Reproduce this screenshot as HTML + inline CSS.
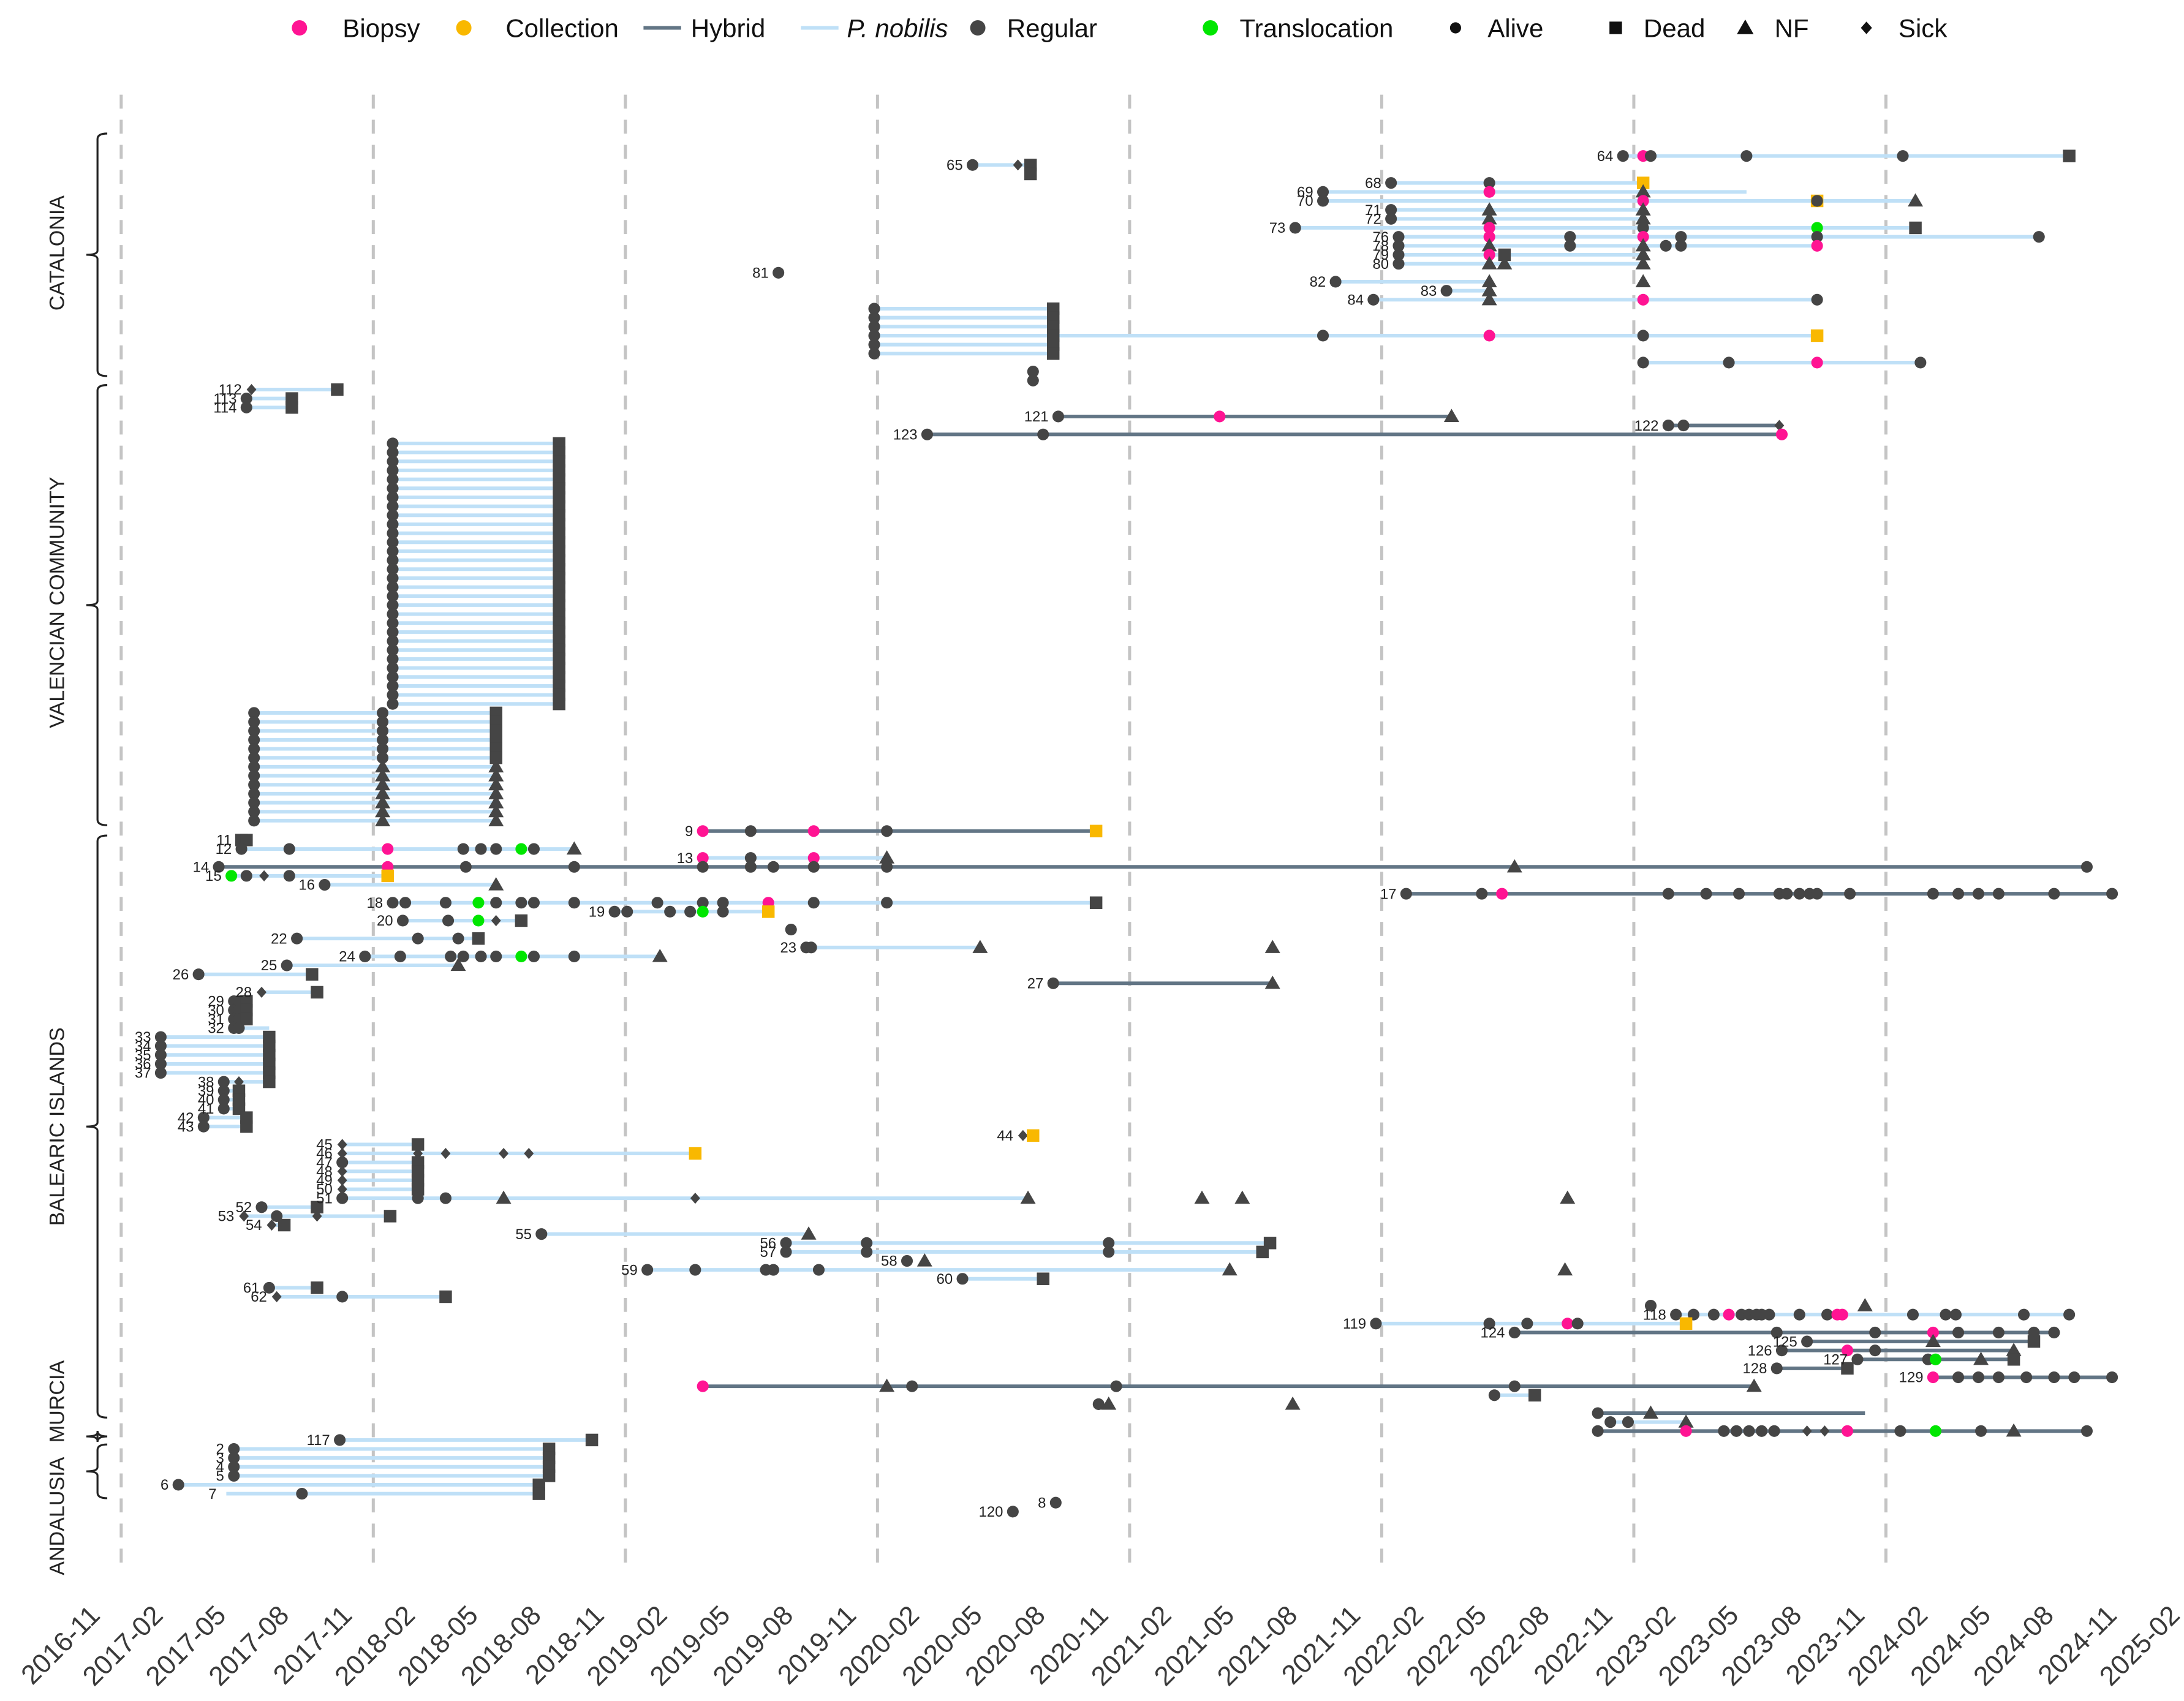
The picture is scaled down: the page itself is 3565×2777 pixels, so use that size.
<!DOCTYPE html>
<html><head><meta charset="utf-8"><style>
html,body{margin:0;padding:0;background:#fff}
svg{display:block}
text{font-family:"Liberation Sans",sans-serif}
</style></head><body>
<svg id="chart" xmlns="http://www.w3.org/2000/svg" width="3565" height="2777" viewBox="0 0 1568 1221.4">
<g id="grid"></g>
<g id="regions"></g>
<g id="lines"></g>
<g id="marks"></g>
<g id="labels"></g>
<g id="xaxis"></g>
<g id="legend"></g>
</svg>
<script>
const tickLabels=["2016-11","2017-02","2017-05","2017-08","2017-11","2018-02","2018-05","2018-08","2018-11","2019-02","2019-05","2019-08","2019-11","2020-02","2020-05","2020-08","2020-11","2021-02","2021-05","2021-08","2021-11","2022-02","2022-05","2022-08","2022-11","2023-02","2023-05","2023-08","2023-11","2024-02","2024-05","2024-08","2024-11","2025-02"];
const gridYears=[2017.083,2018.083,2019.083,2020.083,2021.083,2022.083,2023.083,2024.083];
const regionNames=["CATALONIA","VALENCIAN COMMUNITY","BALEARIC ISLANDS","MURCIA","ANDALUSIA"];
const regionRows=[[-2.5,24.5],[25.5,74.5],[75.5,140.5],[142.6,142.6],[143.5,149.5]];
const regionLabelRows=[10.8,49.7,108,138.7,151.5];
// individuals: label, row, line type (n = P. nobilis, h = hybrid, "" none), events "year+kind+shape"
const individuals=[
["64",0,"n","2023.04Ro 2023.12Bo 2023.15Ro 2023.53Ro 2024.15Ro 2024.81Rs"],
["65",1,"n","2020.46Ro 2020.64Rd 2020.69Rs"],
["",2,"","2020.69Rs"],
["68",3,"n","2022.12Ro 2022.51Ro 2023.12Cs"],
["69",4,"n","2021.85Ro 2022.51Bo 2023.12Rt 2023.53--"],
["70",5,"n","2021.85Ro 2023.12Bo 2023.81Cs 2023.81Ro 2024.20Rt"],
["71",6,"n","2022.12Ro 2022.51Rt 2023.12Rt"],
["72",7,"n","2022.12Ro 2022.51Rt 2023.12Rt"],
["73",8,"n","2021.74Ro 2022.51Bo 2023.12Ro 2023.81To 2024.20Rs"],
["76",9,"n","2022.15Ro 2022.51Bo 2022.83Ro 2023.12Bo 2023.27Ro 2023.81Ro 2024.69Ro"],
["78",10,"n","2022.15Ro 2022.51Rt 2022.83Ro 2023.12Rt 2023.21Ro 2023.27Ro 2023.81Bo"],
["79",11,"n","2022.15Ro 2022.51Bo 2022.57Rs 2023.12Rt"],
["80",12,"n","2022.15Ro 2022.51Rt 2022.57Rt 2023.12Rt"],
["81",13,"","2019.69Ro"],
["82",14,"n","2021.90Ro 2022.51Rt"],
["",14,"","2023.12Rt"],
["83",15,"n","2022.34Ro 2022.51Rt"],
["84",16,"n","2022.05Ro 2022.51Rt 2023.12Bo 2023.81Ro"],
["",17,"n","2020.07Ro 2020.78Rs"],
["",18,"n","2020.07Ro 2020.78Rs"],
["",19,"n","2020.07Ro 2020.78Rs"],
["",20,"n","2020.07Ro 2020.78Rs 2021.85Ro 2022.51Bo 2023.12Ro 2023.81Cs"],
["",21,"n","2020.07Ro 2020.78Rs"],
["",22,"n","2020.07Ro 2020.78Rs"],
["",23,"n","2023.12Ro 2023.46Ro 2023.81Bo 2024.22Ro"],
["",24,"","2020.70Ro"],
["",25,"","2020.70Ro"],
["112",26,"n","2017.60Rd 2017.94Rs"],
["113",27,"n","2017.58Ro 2017.76Rs"],
["114",28,"n","2017.58Ro 2017.76Rs"],
["121",29,"h","2020.80Ro 2021.44Bo 2022.36Rt"],
["122",30,"h","2023.22Ro 2023.28Ro 2023.66Rd"],
["123",31,"h","2020.28Ro 2020.74Ro 2023.67Bo"],
["9",75,"h","2019.39Bo 2019.58Ro 2019.83Bo 2020.12Ro 2020.95Cs"],
["11",76,"n","2017.56Rs 2017.58Rs"],
["12",77,"n","2017.56Ro 2017.75Ro 2018.14Bo 2018.44Ro 2018.51Ro 2018.57Ro 2018.67To 2018.72Ro 2018.88Rt"],
["13",78,"n","2019.39Bo 2019.58Ro 2019.83Bo 2020.12Rt"],
["14",79,"h","2017.47Ro 2018.14Bo 2018.45Ro 2018.88Ro 2019.39Ro 2019.58Ro 2019.67Ro 2019.83Ro 2020.12Ro 2022.61Rt 2024.88Ro"],
["15",80,"n","2017.52To 2017.58Ro 2017.65Rd 2017.75Ro 2018.14Cs"],
["16",81,"n","2017.89Ro 2018.57Rt"],
["17",82,"h","2022.18Ro 2022.48Ro 2022.56Bo 2023.22Ro 2023.37Ro 2023.50Ro 2023.66Ro 2023.69Ro 2023.74Ro 2023.78Ro 2023.81Ro 2023.94Ro 2024.27Ro 2024.37Ro 2024.45Ro 2024.53Ro 2024.75Ro 2024.98Ro"],
["18",83,"n","2018.16Ro 2018.21Ro 2018.37Ro 2018.50To 2018.57Ro 2018.67Ro 2018.72Ro 2018.88Ro 2019.21Ro 2019.39Ro 2019.47Ro 2019.65Bo 2019.83Ro 2020.12Ro 2020.95Rs"],
["19",84,"n","2019.04Ro 2019.09Ro 2019.26Ro 2019.34Ro 2019.39To 2019.47Ro 2019.65Cs"],
["20",85,"n","2018.20Ro 2018.38Ro 2018.50To 2018.57Rd 2018.67Rs"],
["",86,"","2019.74Ro"],
["22",87,"n","2017.78Ro 2018.26Ro 2018.42Ro 2018.50Rs"],
["23",88,"n","2019.80Ro 2019.82Ro 2020.49Rt"],
["",88,"","2021.65Rt"],
["24",89,"n","2018.05Ro 2018.19Ro 2018.39Ro 2018.44Ro 2018.51Ro 2018.57Ro 2018.67To 2018.72Ro 2018.88Ro 2019.22Rt"],
["25",90,"n","2017.74Ro 2018.42Rt"],
["26",91,"n","2017.39Ro 2017.84Rs"],
["27",92,"h","2020.78Ro 2021.65Rt"],
["28",93,"n","2017.64Rd 2017.86Rs"],
["29",94,"n","2017.53Ro 2017.55Ro 2017.58Rs"],
["30",95,"n","2017.53Ro 2017.55Ro 2017.58Rs"],
["31",96,"n","2017.53Ro 2017.55Ro 2017.58Rs"],
["32",97,"n","2017.53Ro 2017.55Ro 2017.67--"],
["33",98,"n","2017.24Ro 2017.67Rs"],
["34",99,"n","2017.24Ro 2017.67Rs"],
["35",100,"n","2017.24Ro 2017.67Rs"],
["36",101,"n","2017.24Ro 2017.67Rs"],
["37",102,"n","2017.24Ro 2017.67Rs"],
["38",103,"n","2017.49Ro 2017.55Rd 2017.67Rs"],
["39",104,"n","2017.49Ro 2017.55Rs"],
["40",105,"n","2017.49Ro 2017.55Rs"],
["41",106,"n","2017.49Ro 2017.55Rs"],
["42",107,"n","2017.41Ro 2017.58Rs"],
["43",108,"n","2017.41Ro 2017.58Rs"],
["44",109,"","2020.66Rd 2020.70Cs"],
["45",110,"n","2017.96Rd 2018.26Rs"],
["46",111,"n","2017.96Rd 2018.26Rd 2018.37Rd 2018.60Rd 2018.70Rd 2019.36Cs"],
["47",112,"n","2017.96Ro 2018.26Rs"],
["48",113,"n","2017.96Rd 2018.26Rs"],
["49",114,"n","2017.96Rd 2018.26Rs"],
["50",115,"n","2017.96Rd 2018.26Rs"],
["51",116,"n","2017.96Ro 2018.26Ro 2018.37Ro 2018.60Rt 2019.36Rd 2020.68Rt"],
["",116,"","2021.37Rt 2021.53Rt 2022.82Rt"],
["52",117,"n","2017.64Ro 2017.86Rs"],
["53",118,"n","2017.57Rd 2017.70Ro 2017.86Rd 2018.15Rs"],
["54",119,"n","2017.68Rd 2017.73Rs"],
["55",120,"n","2018.75Ro 2019.81Rt"],
["56",121,"n","2019.72Ro 2020.04Ro 2021.00Ro 2021.64Rs"],
["57",122,"n","2019.72Ro 2020.04Ro 2021.00Ro 2021.61Rs"],
["58",123,"","2020.20Ro 2020.27Rt"],
["59",124,"n","2019.17Ro 2019.36Ro 2019.64Ro 2019.67Ro 2019.85Ro 2021.48Rt"],
["",124,"","2022.81Rt"],
["60",125,"n","2020.42Ro 2020.74Rs"],
["61",126,"n","2017.67Ro 2017.86Rs"],
["62",127,"n","2017.70Rd 2017.96Ro 2018.37Rs"],
["",128,"","2023.15Ro 2024.00Rt"],
["118",129,"n","2023.25Ro 2023.32Ro 2023.40Ro 2023.46Bo 2023.51Ro 2023.54Ro 2023.57Ro 2023.59Ro 2023.62Ro 2023.74Ro 2023.85Ro 2023.89Bo 2023.91Bo 2024.19Ro 2024.32Ro 2024.36Ro 2024.63Ro 2024.81Ro"],
["119",130,"n","2022.06Ro 2022.51Ro 2022.66Ro 2022.82Bo 2022.86Ro 2023.29Cs"],
["124",131,"h","2022.61Ro 2023.65Ro 2024.04Ro 2024.27Bo 2024.37Ro 2024.53Ro 2024.67Ro 2024.75Ro"],
["125",132,"h","2023.77Ro 2024.27Rt 2024.67Rs"],
["126",133,"h","2023.67Ro 2023.93Bo 2024.04Ro 2024.59Rt"],
["127",134,"h","2023.97Ro 2024.25Ro 2024.28To 2024.46Rt 2024.59Rs"],
["128",135,"h","2023.65Ro 2023.93Rs"],
["129",136,"h","2024.27Bo 2024.37Ro 2024.45Ro 2024.53Ro 2024.64Ro 2024.75Ro 2024.83Ro 2024.98Ro"],
["",137,"h","2019.39Bo 2020.12Rt 2020.22Ro 2021.03Ro 2022.61Ro 2023.56Rt"],
["",138,"n","2022.53Ro 2022.69Rs"],
["",139,"","2020.96Ro 2021.00Rt 2021.73Rt"],
["",140,"h","2022.94Ro 2023.15Rt 2024.00--"],
["",141,"n","2022.99Ro 2023.06Ro 2023.29Rt"],
["",142,"h","2022.94Ro 2023.29Bo 2023.44Ro 2023.49Ro 2023.54Ro 2023.59Ro 2023.64Ro 2023.77Rd 2023.84Rd 2023.93Bo 2024.14Ro 2024.28To 2024.46Ro 2024.59Rt 2024.88Ro"],
["117",143,"n","2017.95Ro 2018.95Rs"],
["2",144,"n","2017.53Ro 2018.78Rs"],
["3",145,"n","2017.53Ro 2018.78Rs"],
["4",146,"n","2017.53Ro 2018.78Rs"],
["5",147,"n","2017.53Ro 2018.78Rs"],
["6",148,"n","2017.31Ro 2018.74Rs"],
["7",149,"n","2017.50-- 2017.80Ro 2018.74Rs"],
["8",150,"","2020.79Ro"],
["120",151,"","2020.62Ro"]
];
// groups of identical unlabeled individuals: first row, last row, line type, events
const blockGroups=[
[32,61,"n","2018.16Ro 2018.82Rs"],
[62,67,"n","2017.61Ro 2018.12Ro 2018.57Rs"],
[68,74,"n","2017.61Ro 2018.12Rt 2018.57Rt"]
];
const kindColors={R:"#454545",B:"#ff1493",C:"#f9b800",T:"#00e600"};
const NS="http://www.w3.org/2000/svg";
function X(yr){return 87+(yr-2017.083)*181;}
function Y(r){return r<75?112+r*6.45:114.5+r*6.43;}
function mk(tag,attrs,parent){const e=document.createElementNS(NS,tag);for(const k in attrs)e.setAttribute(k,attrs[k]);parent.appendChild(e);return e;}
const G=id=>document.getElementById(id);
gridYears.forEach(g=>{const l=mk("line",{x1:X(g),x2:X(g),y1:68,y2:1128,stroke:"#c4c4c4","stroke-width":2.2,"stroke-dasharray":"10 8"},G("grid"));

});
tickLabels.forEach((t,i)=>{const parts=t.split("-");const yr=+parts[0]+(+parts[1]-1)/12;const x=X(yr)+31,y=1161;
const e=mk("text",{x:x,y:y,"text-anchor":"end","font-size":19.5,fill:"#3a3a3a",transform:`rotate(-45 ${x} ${y})`},G("xaxis"));e.textContent=t;

});
regionNames.forEach((n,i)=>{const [a,b]=regionRows[i];const y1=Y(a),y2=Y(b),xm=70;
const p=mk("path",{d:`M${xm+7},${y1} Q${xm},${y1} ${xm},${y1+4} L${xm},${(y1+y2)/2-3} Q${xm},${(y1+y2)/2} ${xm-8},${(y1+y2)/2} Q${xm},${(y1+y2)/2} ${xm},${(y1+y2)/2+3} L${xm},${y2-4} Q${xm},${y2} ${xm+7},${y2}`,fill:"none",stroke:"#222","stroke-width":1.4},G("regions"));


const ly=Y(regionLabelRows[i]);
const t=mk("text",{x:46,y:ly,"text-anchor":"middle","font-size":15,fill:"#222",transform:`rotate(-90 46 ${ly})`},G("regions"));t.textContent=n;

});
const all=individuals.slice();
blockGroups.forEach(g=>{for(let r=g[0];r<=g[1];r++)all.push(["",r,g[2],g[3]]);});
function parse(s){return s.split(" ").map(tok=>({yr:parseFloat(tok),k:tok.slice(-2,-1),s:tok.slice(-1)}));}
function marker(ev,y,parent){
 const x=X(ev.yr);const c=kindColors[ev.k]||"#454545";let e;
 if(ev.s==="-")return;
 if(ev.s==="o")e=mk("circle",{cx:x,cy:y,r:4.2,fill:c},parent);
 else if(ev.s==="s")e=mk("rect",{x:x-4.5,y:y-4.5,width:9,height:9,fill:c},parent);
 else if(ev.s==="t")e=mk("polygon",{points:`${x},${y-5.5} ${x+5.5},${y+4} ${x-5.5},${y+4}`,fill:c},parent);
 else if(ev.s==="d")e=mk("polygon",{points:`${x},${y-4} ${x+3.5},${y} ${x},${y+4} ${x-3.5},${y}`,fill:c},parent);
 
 
}
all.forEach(d=>{const evs=parse(d[3]);const y=Y(d[1]);const xs=evs.map(e=>X(e.yr));const x0=Math.min(...xs),x1=Math.max(...xs);
 if(d[2]){const l=mk("line",{x1:x0,x2:x1,y1:y,y2:y,stroke:d[2]==="h"?"#627585":"#bfe0f7","stroke-width":2.6},G("lines"));
  
  }
 evs.forEach(ev=>marker(ev,y,G("marks")));
 if(d[0]){const t=mk("text",{x:x0-7,y:y+3.6,"text-anchor":"end","font-size":10.5,fill:"#222"},G("labels"));t.textContent=d[0];
  
  }
});
const lg=G("legend");
const legendItems=[["Biopsy","dot","#ff1493",215,246],["Collection","dot","#f9b800",333,363],["Hybrid","line","#627585",465,496],["P. nobilis","line","#bfe0f7",578,608],["Regular","dot","#454545",702,723],["Translocation","dot","#00e600",869,890],["Alive","o","#111",1045,1068],["Dead","s","#111",1160,1180],["NF","t","#111",1253,1274],["Sick","d","#111",1340,1363]];
legendItems.forEach(it=>{const [n,ty,c,mx,tx]=it;const y=20;let e;
 if(ty==="dot")e=mk("circle",{cx:mx,cy:y,r:5.5,fill:c},lg);
 else if(ty==="line")e=mk("line",{x1:mx-3,x2:mx+24,y1:y,y2:y,stroke:c,"stroke-width":2.6},lg);
 else if(ty==="o")e=mk("circle",{cx:mx,cy:y,r:4,fill:c},lg);
 else if(ty==="s")e=mk("rect",{x:mx-4.5,y:y-4.5,width:9,height:9,fill:c},lg);
 else if(ty==="t")e=mk("polygon",{points:`${mx},${y-6} ${mx+6},${y+4.5} ${mx-6},${y+4.5}`,fill:c},lg);
 else e=mk("polygon",{points:`${mx},${y-4.5} ${mx+4},${y} ${mx},${y+4.5} ${mx-4},${y}`,fill:c},lg);
 
 
 const t=mk("text",{x:tx,y:y+6.5,"font-size":18.5,fill:"#111"},lg);
 if(n==="P. nobilis"){const a=mk("tspan",{"font-style":"italic"},t);a.textContent="P. nobilis";}else t.textContent=n;
 
 
});
</script>
</body></html>
